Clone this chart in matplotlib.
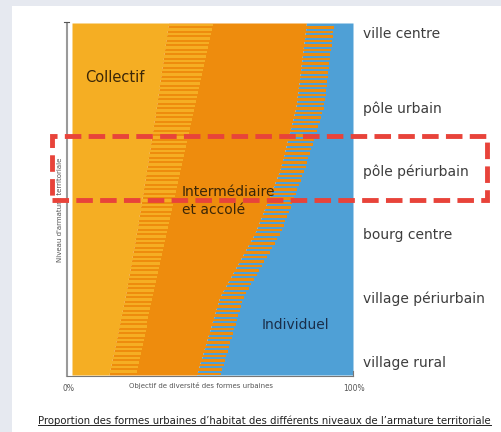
import matplotlib
matplotlib.use("Agg")
import matplotlib.pyplot as plt
import numpy as np
from matplotlib.patches import Rectangle
from matplotlib.lines import Line2D

# niveaux de l'armature territoriale (haut -> bas)
levels = ["ville centre", "pôle urbain", "pôle périurbain",
          "bourg centre", "village périurbain", "village rural"]
# position verticale des niveaux (fraction de hauteur, 0 = haut)
level_pos = [0.028, 0.239, 0.418, 0.597, 0.778, 0.963]

# limites des formes urbaines en %
collectif_edge = [33.8, 30.0, 26.5, 22.9, 18.9, 14.1]       # fin du collectif plein
collectif_stripe_end = [49.4, 43.6, 38.7, 33.8, 28.8, 23.8]  # fin des hachures collectif
individuel_start = [83.0, 79.7, 74.0, 65.1, 52.6, 45.7]      # début des hachures individuel
individuel_edge = [93.2, 90.0, 83.1, 74.6, 61.5, 54.6]       # début de l'individuel plein

C_LIGHT = "#f5ae23"
C_DARK = "#ee8c0d"
C_BLUE = "#4fa0d6"


def edge(vals, y):
    # interpolation entre niveaux, prolongée linéairement aux bords
    p = np.asarray(level_pos)
    v = np.asarray(vals, dtype=float)
    y = np.asarray(y, dtype=float)
    out = np.interp(y, p, v)
    lo = y < p[0]
    hi = y > p[-1]
    out[lo] = v[0] + (y[lo] - p[0]) * (v[1] - v[0]) / (p[1] - p[0])
    out[hi] = v[-1] + (y[hi] - p[-1]) * (v[-1] - v[-2]) / (p[-1] - p[-2])
    return out


W, H = 502, 432
fig = plt.figure(figsize=(W / 100, H / 100), dpi=100)
fig.patch.set_facecolor("white")
fig.add_artist(Rectangle((0, 0), 12 / W, 1, transform=fig.transFigure,
                         color="#e6e9f0", lw=0, zorder=-1))
fig.add_artist(Rectangle((0, 1 - 6 / H), 1, 6 / H, transform=fig.transFigure,
                         color="#e6e9f0", lw=0, zorder=-1))

ax = fig.add_axes([72 / W, 1 - 375 / H, 281 / W, 352 / H])
ax.set_xlim(0, 100)
ax.set_ylim(1, 0)

yy = np.linspace(0, 1, 300)
ax.fill_betweenx(yy, 0, edge(collectif_edge, yy), color=C_LIGHT, lw=0)
ax.fill_betweenx(yy, edge(collectif_edge, yy), edge(individuel_start, yy), color=C_DARK, lw=0)
ax.fill_betweenx(yy, edge(individuel_start, yy), 100, color=C_BLUE, lw=0)

# hachures horizontales
pitch = 4.5 / 352
ys = np.arange(0.006, 1, pitch)
l1 = edge(collectif_edge, ys)
r1 = edge(collectif_stripe_end, ys)
ax.barh(ys, r1 - l1 + 0.4, left=l1 - 0.4, height=2.5 / 352, color=C_LIGHT, lw=0)
ys2 = ys + pitch / 2
l2 = edge(individuel_start, ys2)
r2 = edge(individuel_edge, ys2)
ax.barh(ys2, r2 - l2, left=l2 - 0.3, height=2.4 / 352, color=C_DARK, lw=0)

for sp in ax.spines.values():
    sp.set_visible(False)
ax.set_xticks([])
ax.yaxis.tick_right()
ax.set_yticks(level_pos, levels)
ax.tick_params(axis="y", length=0, pad=7, labelsize=10, labelcolor="#3d3d3d")

# axes dessinés à la main
ax.plot([-1.78, -1.78], [0, 1.004], color="#9a9a9a", lw=1.5, clip_on=False)
ax.plot([-2.8, -0.9], [-0.003, -0.003], color="#555555", lw=0.8, clip_on=False)
ax.plot([-1.78, 100], [1.004, 1.004], color="#777777", lw=0.8, clip_on=False)
ax.plot([100, 100], [0.99, 1.004], color="#777777", lw=0.8, clip_on=False)

ax.text(-1.1, 1.037, "0%", fontsize=5.5, color="#555555", ha="center", va="center")
ax.text(100.4, 1.037, "100%", fontsize=5.5, color="#555555", ha="center", va="center")
ax.text(45.9, 1.031, "Objectif de diversité des formes urbaines", fontsize=5,
        color="#555555", ha="center", va="center")
ax.text(-4.3, 0.531, "Niveau d'armature territoriale", fontsize=5, color="#555555",
        rotation=90, ha="center", va="center")

ax.text(4.6, 0.156, "Collectif", fontsize=10.5, color="#3a2608", va="center")
ax.text(39.0, 0.505, "Intermédiaire\net accolé", fontsize=10, color="#3a2608",
        va="center", linespacing=1.4)
ax.text(67.6, 0.858, "Individuel", fontsize=10, color="#1a2e4a", va="center")

cap = fig.text(38 / W, 1 - 421 / H,
               "Proportion des formes urbaines d’habitat des différents niveaux de l’armature territoriale",
               fontsize=7.3, color="#222222", va="center")
fig.canvas.draw()
bb = cap.get_window_extent()
fig.add_artist(Line2D([bb.x0 / W, bb.x1 / W], [(bb.y0 + 1.5) / H] * 2,
                      transform=fig.transFigure, color="#222222", lw=0.7))

# cadre rouge en pointillés
fig.add_artist(Rectangle((52 / W, 1 - 200 / H), 435 / W, 64 / H, transform=fig.transFigure,
                         fill=False, edgecolor="#e8433a", lw=3.5,
                         linestyle=(0, (3.4, 1.5)), zorder=5))

fig.savefig("out.png", dpi=100)
